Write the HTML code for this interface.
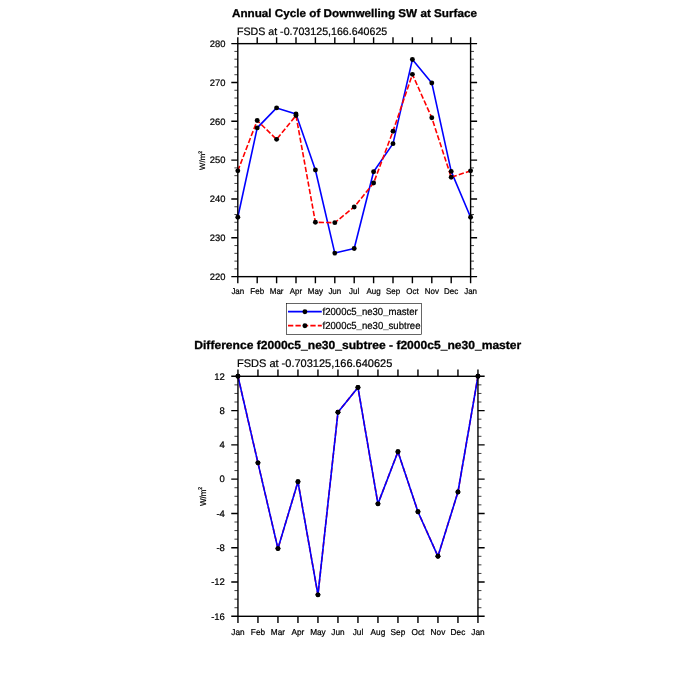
<!DOCTYPE html>
<html lang="en"><head><meta charset="utf-8"><title>Annual Cycle of Downwelling SW at Surface</title>
<style>html,body{margin:0;padding:0;background:#fff;}body{width:675px;height:675px;overflow:hidden;}svg{display:block;}text{font-family:"Liberation Sans", sans-serif;fill:#000;text-rendering:geometricPrecision;stroke:#000;stroke-width:0.22px;}text.b{font-weight:bold;stroke-width:0.3px;}</style></head><body>
<svg width="675" height="675" viewBox="0 0 675 675">
<rect width="675" height="675" fill="#fff"/>
<text x="354.45" y="17.0" font-size="11.3" class="b" text-anchor="middle" textLength="245" lengthAdjust="spacingAndGlyphs">Annual Cycle of Downwelling SW at Surface</text>
<text x="236.9" y="34.95" font-size="10.7" textLength="150.4" lengthAdjust="spacingAndGlyphs">FSDS at -0.703125,166.640625</text>
<polyline points="237.80,217.23 257.20,127.92 276.60,107.92 296.00,113.94 315.40,170.05 334.80,253.08 354.20,248.50 373.60,171.80 393.00,143.65 412.40,59.57 431.80,82.95 451.20,171.41 470.60,217.23" fill="none" stroke="#0000ff" stroke-width="1.60" stroke-linejoin="round"/>
<polyline points="237.80,170.83 257.20,120.54 276.60,139.37 296.00,115.49 315.40,222.28 334.80,222.67 354.20,206.94 373.60,183.06 393.00,131.22 412.40,74.33 431.80,117.82 451.20,177.24 470.60,170.83" fill="none" stroke="#ff0000" stroke-width="1.60" stroke-linejoin="round" stroke-dasharray="5.3 2.15"/>
<rect x="237.80" y="43.65" width="232.80" height="233.00" fill="none" stroke="#000" stroke-width="1.40"/>
<path d="M237.80 43.65V37.15M237.80 276.65V283.15M257.20 43.65V37.15M257.20 276.65V283.15M276.60 43.65V37.15M276.60 276.65V283.15M296.00 43.65V37.15M296.00 276.65V283.15M315.40 43.65V37.15M315.40 276.65V283.15M334.80 43.65V37.15M334.80 276.65V283.15M354.20 43.65V37.15M354.20 276.65V283.15M373.60 43.65V37.15M373.60 276.65V283.15M393.00 43.65V37.15M393.00 276.65V283.15M412.40 43.65V37.15M412.40 276.65V283.15M431.80 43.65V37.15M431.80 276.65V283.15M451.20 43.65V37.15M451.20 276.65V283.15M470.60 43.65V37.15M470.60 276.65V283.15M237.80 276.65H231.30M470.60 276.65H477.10M237.80 237.82H231.30M470.60 237.82H477.10M237.80 198.98H231.30M470.60 198.98H477.10M237.80 160.15H231.30M470.60 160.15H477.10M237.80 121.32H231.30M470.60 121.32H477.10M237.80 82.48H231.30M470.60 82.48H477.10M237.80 43.65H231.30M470.60 43.65H477.10" stroke="#000" stroke-width="1.40" fill="none"/>
<path d="M237.80 268.88H234.40M470.60 268.88H474.00M237.80 261.12H234.40M470.60 261.12H474.00M237.80 253.35H234.40M470.60 253.35H474.00M237.80 245.58H234.40M470.60 245.58H474.00M237.80 230.05H234.40M470.60 230.05H474.00M237.80 222.28H234.40M470.60 222.28H474.00M237.80 214.52H234.40M470.60 214.52H474.00M237.80 206.75H234.40M470.60 206.75H474.00M237.80 191.22H234.40M470.60 191.22H474.00M237.80 183.45H234.40M470.60 183.45H474.00M237.80 175.68H234.40M470.60 175.68H474.00M237.80 167.92H234.40M470.60 167.92H474.00M237.80 152.38H234.40M470.60 152.38H474.00M237.80 144.62H234.40M470.60 144.62H474.00M237.80 136.85H234.40M470.60 136.85H474.00M237.80 129.08H234.40M470.60 129.08H474.00M237.80 113.55H234.40M470.60 113.55H474.00M237.80 105.78H234.40M470.60 105.78H474.00M237.80 98.02H234.40M470.60 98.02H474.00M237.80 90.25H234.40M470.60 90.25H474.00M237.80 74.72H234.40M470.60 74.72H474.00M237.80 66.95H234.40M470.60 66.95H474.00M237.80 59.18H234.40M470.60 59.18H474.00M237.80 51.42H234.40M470.60 51.42H474.00" stroke="#000" stroke-width="0.75" fill="none"/>
<circle cx="237.80" cy="217.23" r="2.45" fill="#000"/>
<circle cx="257.20" cy="127.92" r="2.45" fill="#000"/>
<circle cx="276.60" cy="107.92" r="2.45" fill="#000"/>
<circle cx="296.00" cy="113.94" r="2.45" fill="#000"/>
<circle cx="315.40" cy="170.05" r="2.45" fill="#000"/>
<circle cx="334.80" cy="253.08" r="2.45" fill="#000"/>
<circle cx="354.20" cy="248.50" r="2.45" fill="#000"/>
<circle cx="373.60" cy="171.80" r="2.45" fill="#000"/>
<circle cx="393.00" cy="143.65" r="2.45" fill="#000"/>
<circle cx="412.40" cy="59.57" r="2.45" fill="#000"/>
<circle cx="431.80" cy="82.95" r="2.45" fill="#000"/>
<circle cx="451.20" cy="171.41" r="2.45" fill="#000"/>
<circle cx="470.60" cy="217.23" r="2.45" fill="#000"/>
<circle cx="237.80" cy="170.83" r="2.45" fill="#000"/>
<circle cx="257.20" cy="120.54" r="2.45" fill="#000"/>
<circle cx="276.60" cy="139.37" r="2.45" fill="#000"/>
<circle cx="296.00" cy="115.49" r="2.45" fill="#000"/>
<circle cx="315.40" cy="222.28" r="2.45" fill="#000"/>
<circle cx="334.80" cy="222.67" r="2.45" fill="#000"/>
<circle cx="354.20" cy="206.94" r="2.45" fill="#000"/>
<circle cx="373.60" cy="183.06" r="2.45" fill="#000"/>
<circle cx="393.00" cy="131.22" r="2.45" fill="#000"/>
<circle cx="412.40" cy="74.33" r="2.45" fill="#000"/>
<circle cx="431.80" cy="117.82" r="2.45" fill="#000"/>
<circle cx="451.20" cy="177.24" r="2.45" fill="#000"/>
<circle cx="470.60" cy="170.83" r="2.45" fill="#000"/>
<text transform="translate(225.40 279.89)" font-size="9.40" text-anchor="end">220</text>
<text transform="translate(225.40 241.06)" font-size="9.40" text-anchor="end">230</text>
<text transform="translate(225.40 202.23)" font-size="9.40" text-anchor="end">240</text>
<text transform="translate(225.40 163.39)" font-size="9.40" text-anchor="end">250</text>
<text transform="translate(225.40 124.56)" font-size="9.40" text-anchor="end">260</text>
<text transform="translate(225.40 85.73)" font-size="9.40" text-anchor="end">270</text>
<text transform="translate(225.40 46.89)" font-size="9.40" text-anchor="end">280</text>
<text transform="translate(237.80 294.30) scale(0.9600 1)" font-size="8.30" text-anchor="middle">Jan</text>
<text transform="translate(257.20 294.30) scale(0.9600 1)" font-size="8.30" text-anchor="middle">Feb</text>
<text transform="translate(276.60 294.30) scale(0.9600 1)" font-size="8.30" text-anchor="middle">Mar</text>
<text transform="translate(296.00 294.30) scale(0.9600 1)" font-size="8.30" text-anchor="middle">Apr</text>
<text transform="translate(315.40 294.30) scale(0.9600 1)" font-size="8.30" text-anchor="middle">May</text>
<text transform="translate(334.80 294.30) scale(0.9600 1)" font-size="8.30" text-anchor="middle">Jun</text>
<text transform="translate(354.20 294.30) scale(0.9600 1)" font-size="8.30" text-anchor="middle">Jul</text>
<text transform="translate(373.60 294.30) scale(0.9600 1)" font-size="8.30" text-anchor="middle">Aug</text>
<text transform="translate(393.00 294.30) scale(0.9600 1)" font-size="8.30" text-anchor="middle">Sep</text>
<text transform="translate(412.40 294.30) scale(0.9600 1)" font-size="8.30" text-anchor="middle">Oct</text>
<text transform="translate(431.80 294.30) scale(0.9600 1)" font-size="8.30" text-anchor="middle">Nov</text>
<text transform="translate(451.20 294.30) scale(0.9600 1)" font-size="8.30" text-anchor="middle">Dec</text>
<text transform="translate(470.60 294.30) scale(0.9600 1)" font-size="8.30" text-anchor="middle">Jan</text>
<text transform="translate(205.2 169.9) rotate(-90)" font-size="7.8">W/m<tspan font-size="5" dy="-3.4">2</tspan></text>
<rect x="286.3" y="303.4" width="135.4" height="31.0" fill="#fff" stroke="#000" stroke-width="0.6"/>
<path d="M288 311.7H321.8" stroke="#0000ff" stroke-width="1.8"/>
<path d="M288 325.7H321.8" stroke="#ff0000" stroke-width="1.8" stroke-dasharray="5.3 2.15"/>
<circle cx="304.9" cy="311.7" r="2.45" fill="#000"/><circle cx="304.9" cy="325.7" r="2.45" fill="#000"/>
<text x="322.5" y="314.85" font-size="10.2" textLength="95.3" lengthAdjust="spacingAndGlyphs">f2000c5<tspan dy="-0.8" fill="#777" stroke="#999">_</tspan><tspan dy="0.8">ne30</tspan><tspan dy="-0.8" fill="#777" stroke="#999">_</tspan><tspan dy="0.8">master</tspan></text>
<text x="322.5" y="328.85" font-size="10.2" textLength="98" lengthAdjust="spacingAndGlyphs">f2000c5<tspan dy="-0.8" fill="#777" stroke="#999">_</tspan><tspan dy="0.8">ne30</tspan><tspan dy="-0.8" fill="#777" stroke="#999">_</tspan><tspan dy="0.8">subtree</tspan></text>
<text x="357.8" y="348.7" font-size="11.7" class="b" text-anchor="middle" textLength="327" lengthAdjust="spacingAndGlyphs">Difference f2000c5_ne30_subtree - f2000c5_ne30_master</text>
<text x="237" y="366.5" font-size="11" textLength="155.3" lengthAdjust="spacingAndGlyphs">FSDS at -0.703125,166.640625</text>
<polyline points="237.95,376.30 257.95,462.87 277.95,548.59 297.95,481.73 317.95,594.87 337.95,412.30 357.95,387.44 377.95,503.84 397.95,451.73 417.95,511.73 437.95,556.30 457.95,492.01 477.95,376.30" fill="none" stroke="#ff0000" stroke-width="1.60" stroke-linejoin="round" stroke-dasharray="5.3 2.15"/>
<polyline points="237.95,376.30 257.95,462.87 277.95,548.59 297.95,481.73 317.95,594.87 337.95,412.30 357.95,387.44 377.95,503.84 397.95,451.73 417.95,511.73 437.95,556.30 457.95,492.01 477.95,376.30" fill="none" stroke="#0000ff" stroke-width="1.60" stroke-linejoin="round"/>
<rect x="237.95" y="376.30" width="240.00" height="240.00" fill="none" stroke="#000" stroke-width="1.40"/>
<path d="M237.95 376.30V369.60M237.95 616.30V623.00M257.95 376.30V369.60M257.95 616.30V623.00M277.95 376.30V369.60M277.95 616.30V623.00M297.95 376.30V369.60M297.95 616.30V623.00M317.95 376.30V369.60M317.95 616.30V623.00M337.95 376.30V369.60M337.95 616.30V623.00M357.95 376.30V369.60M357.95 616.30V623.00M377.95 376.30V369.60M377.95 616.30V623.00M397.95 376.30V369.60M397.95 616.30V623.00M417.95 376.30V369.60M417.95 616.30V623.00M437.95 376.30V369.60M437.95 616.30V623.00M457.95 376.30V369.60M457.95 616.30V623.00M477.95 376.30V369.60M477.95 616.30V623.00M237.95 616.30H231.25M477.95 616.30H484.65M237.95 582.01H231.25M477.95 582.01H484.65M237.95 547.73H231.25M477.95 547.73H484.65M237.95 513.44H231.25M477.95 513.44H484.65M237.95 479.16H231.25M477.95 479.16H484.65M237.95 444.87H231.25M477.95 444.87H484.65M237.95 410.59H231.25M477.95 410.59H484.65M237.95 376.30H231.25M477.95 376.30H484.65" stroke="#000" stroke-width="1.40" fill="none"/>
<path d="M237.95 607.73H234.45M477.95 607.73H481.45M237.95 599.16H234.45M477.95 599.16H481.45M237.95 590.59H234.45M477.95 590.59H481.45M237.95 573.44H234.45M477.95 573.44H481.45M237.95 564.87H234.45M477.95 564.87H481.45M237.95 556.30H234.45M477.95 556.30H481.45M237.95 539.16H234.45M477.95 539.16H481.45M237.95 530.59H234.45M477.95 530.59H481.45M237.95 522.01H234.45M477.95 522.01H481.45M237.95 504.87H234.45M477.95 504.87H481.45M237.95 496.30H234.45M477.95 496.30H481.45M237.95 487.73H234.45M477.95 487.73H481.45M237.95 470.59H234.45M477.95 470.59H481.45M237.95 462.01H234.45M477.95 462.01H481.45M237.95 453.44H234.45M477.95 453.44H481.45M237.95 436.30H234.45M477.95 436.30H481.45M237.95 427.73H234.45M477.95 427.73H481.45M237.95 419.16H234.45M477.95 419.16H481.45M237.95 402.01H234.45M477.95 402.01H481.45M237.95 393.44H234.45M477.95 393.44H481.45M237.95 384.87H234.45M477.95 384.87H481.45" stroke="#000" stroke-width="0.75" fill="none"/>
<circle cx="237.95" cy="376.30" r="2.45" fill="#000"/>
<circle cx="257.95" cy="462.87" r="2.45" fill="#000"/>
<circle cx="277.95" cy="548.59" r="2.45" fill="#000"/>
<circle cx="297.95" cy="481.73" r="2.45" fill="#000"/>
<circle cx="317.95" cy="594.87" r="2.45" fill="#000"/>
<circle cx="337.95" cy="412.30" r="2.45" fill="#000"/>
<circle cx="357.95" cy="387.44" r="2.45" fill="#000"/>
<circle cx="377.95" cy="503.84" r="2.45" fill="#000"/>
<circle cx="397.95" cy="451.73" r="2.45" fill="#000"/>
<circle cx="417.95" cy="511.73" r="2.45" fill="#000"/>
<circle cx="437.95" cy="556.30" r="2.45" fill="#000"/>
<circle cx="457.95" cy="492.01" r="2.45" fill="#000"/>
<circle cx="477.95" cy="376.30" r="2.45" fill="#000"/>
<circle cx="237.95" cy="376.30" r="2.45" fill="#000"/>
<circle cx="257.95" cy="462.87" r="2.45" fill="#000"/>
<circle cx="277.95" cy="548.59" r="2.45" fill="#000"/>
<circle cx="297.95" cy="481.73" r="2.45" fill="#000"/>
<circle cx="317.95" cy="594.87" r="2.45" fill="#000"/>
<circle cx="337.95" cy="412.30" r="2.45" fill="#000"/>
<circle cx="357.95" cy="387.44" r="2.45" fill="#000"/>
<circle cx="377.95" cy="503.84" r="2.45" fill="#000"/>
<circle cx="397.95" cy="451.73" r="2.45" fill="#000"/>
<circle cx="417.95" cy="511.73" r="2.45" fill="#000"/>
<circle cx="437.95" cy="556.30" r="2.45" fill="#000"/>
<circle cx="457.95" cy="492.01" r="2.45" fill="#000"/>
<circle cx="477.95" cy="376.30" r="2.45" fill="#000"/>
<text transform="translate(224.90 619.58)" font-size="9.50" text-anchor="end">-16</text>
<text transform="translate(224.90 585.29)" font-size="9.50" text-anchor="end">-12</text>
<text transform="translate(224.90 551.01)" font-size="9.50" text-anchor="end">-8</text>
<text transform="translate(224.90 516.72)" font-size="9.50" text-anchor="end">-4</text>
<text transform="translate(224.90 482.43)" font-size="9.50" text-anchor="end">0</text>
<text transform="translate(224.90 448.15)" font-size="9.50" text-anchor="end">4</text>
<text transform="translate(224.90 413.86)" font-size="9.50" text-anchor="end">8</text>
<text transform="translate(224.90 379.58)" font-size="9.50" text-anchor="end">12</text>
<text transform="translate(237.95 634.60) scale(0.9600 1)" font-size="8.60" text-anchor="middle">Jan</text>
<text transform="translate(257.95 634.60) scale(0.9600 1)" font-size="8.60" text-anchor="middle">Feb</text>
<text transform="translate(277.95 634.60) scale(0.9600 1)" font-size="8.60" text-anchor="middle">Mar</text>
<text transform="translate(297.95 634.60) scale(0.9600 1)" font-size="8.60" text-anchor="middle">Apr</text>
<text transform="translate(317.95 634.60) scale(0.9600 1)" font-size="8.60" text-anchor="middle">May</text>
<text transform="translate(337.95 634.60) scale(0.9600 1)" font-size="8.60" text-anchor="middle">Jun</text>
<text transform="translate(357.95 634.60) scale(0.9600 1)" font-size="8.60" text-anchor="middle">Jul</text>
<text transform="translate(377.95 634.60) scale(0.9600 1)" font-size="8.60" text-anchor="middle">Aug</text>
<text transform="translate(397.95 634.60) scale(0.9600 1)" font-size="8.60" text-anchor="middle">Sep</text>
<text transform="translate(417.95 634.60) scale(0.9600 1)" font-size="8.60" text-anchor="middle">Oct</text>
<text transform="translate(437.95 634.60) scale(0.9600 1)" font-size="8.60" text-anchor="middle">Nov</text>
<text transform="translate(457.95 634.60) scale(0.9600 1)" font-size="8.60" text-anchor="middle">Dec</text>
<text transform="translate(477.95 634.60) scale(0.9600 1)" font-size="8.60" text-anchor="middle">Jan</text>
<text transform="translate(206.3 506.1) rotate(-90) scale(0.93 1)" font-size="8.6">W/m<tspan font-size="5.4" dy="-4.4">2</tspan></text>
</svg></body></html>
